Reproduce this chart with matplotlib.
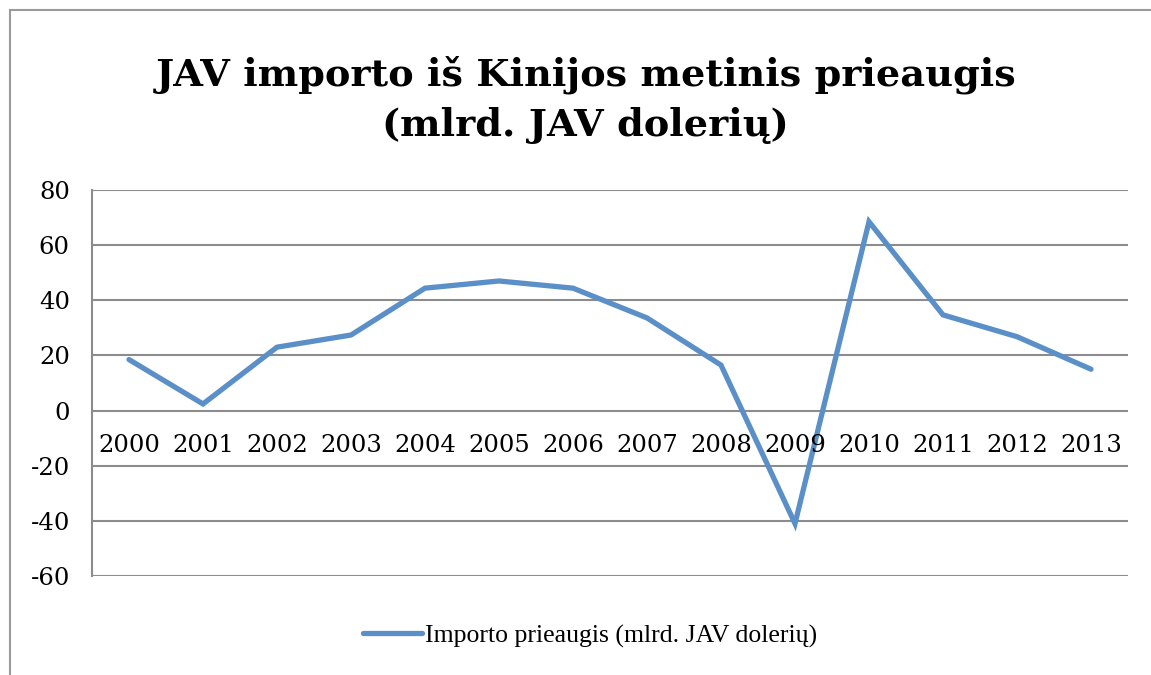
import matplotlib
matplotlib.use("Agg")
import matplotlib.pyplot as plt
from matplotlib.patches import Rectangle
import matplotlib.transforms as mtransforms

years = ["2000", "2001", "2002", "2003", "2004", "2005", "2006",
         "2007", "2008", "2009", "2010", "2011", "2012", "2013"]
values = [18.5, 2.4, 23.0, 27.4, 44.4, 47.0, 44.4,
          33.6, 16.5, -41.0, 68.5, 34.7, 26.8, 15.0]
yticks = [-60, -40, -20, 0, 20, 40, 60, 80]
title = "JAV importo iš Kinijos metinis prieaugis\n(mlrd. JAV dolerių)"
series_label = "Importo prieaugis (mlrd. JAV dolerių)"

W, H = 1151, 675
fig = plt.figure(figsize=(W / 100, H / 100), dpi=100)
fig.patch.set_facecolor("white")

# outer chart border (only left/top visible)
fig.add_artist(Rectangle((10 / W, -0.1), 1.2, 1 - 10 / H + 0.1,
                         transform=fig.transFigure, fill=False,
                         edgecolor="#9a9a9a", linewidth=1.5))

ax = fig.add_axes([92 / W, 1 - 576 / H, (1128 - 92) / W, (576 - 190) / H])
x = list(range(len(years)))
line, = ax.plot(x, values, color="#5b8fc8", linewidth=3.8,
                solid_joinstyle="miter", solid_capstyle="round",
                label=series_label, zorder=3)
ax.set_xlim(-0.5, len(years) - 0.5)
ax.set_ylim(-60, 80)
ax.set_yticks(yticks)
ax.set_yticklabels([str(v) for v in yticks], fontsize=17.5, family="DejaVu Serif")
ax.tick_params(axis="y", length=0, pad=16)
ax.set_xticks([])
ax.grid(axis="y", color="#8c8c8c", linewidth=1.5)
ax.set_axisbelow(True)
for s in ["top", "right", "bottom"]:
    ax.spines[s].set_visible(False)
ax.spines["left"].set_color("#8c8c8c")
ax.spines["left"].set_linewidth(1.5)

offset = mtransforms.offset_copy(ax.transData, fig=fig, x=0, y=-23, units="dots")
for i, lab in enumerate(years):
    ax.text(i, 0, lab, transform=offset, ha="center", va="top",
            fontsize=17.5, family="DejaVu Serif")

fig.text(0.509, 1 - 100 / H, title, ha="center", va="center",
         fontsize=27.5, fontweight="bold", family="DejaVu Serif", linespacing=1.45)

leg = fig.legend(handles=[line], loc="center", bbox_to_anchor=(590 / W, 1 - 636 / H),
                 frameon=False, prop={"family": "Liberation Serif", "size": 18.5},
                 handlelength=2.3, handletextpad=0.1)

fig.savefig("out.png", dpi=100)
